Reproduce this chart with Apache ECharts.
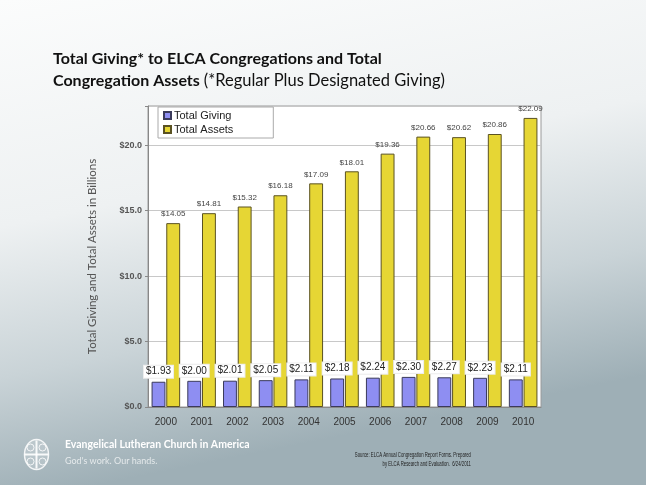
<!DOCTYPE html>
<html><head><meta charset="utf-8">
<script src="https://cdn.jsdelivr.net/npm/echarts@6/dist/echarts.min.js"></script>
<style>html,body{margin:0;padding:0;}#c{width:646px;height:485px;}</style>
</head><body><div id="c"></div>
<script>
const years = ['2000','2001','2002','2003','2004','2005','2006','2007','2008','2009','2010'];
const totalGiving = [1.93,2.00,2.01,2.05,2.11,2.18,2.24,2.30,2.27,2.23,2.11];
const totalAssets = [14.05,14.81,15.32,16.18,17.09,18.01,19.36,20.66,20.62,20.86,22.09];
const yTicks = [0,5,10,15,20];

const chart = echarts.init(document.getElementById('c'));
const fmt = v => '$' + v.toFixed(2);
chart.setOption({
  animation:false,
  backgroundColor:{type:'linear',x:0,y:0,x2:0.15,y2:1,colorStops:[
    {offset:0,color:'#fbfcfc'},{offset:0.45,color:'#eef1f2'},{offset:0.75,color:'#c9d3d7'},{offset:1,color:'#9eafb6'}]},
  title:{
    text:'{b|Total Giving* to ELCA Congregations and Total}\n{b|Congregation Assets }{n|(*Regular Plus Designated Giving)}',
    left:48, top:43,
    textStyle:{fontWeight:'normal',rich:{
      b:{fontFamily:'Lato',fontWeight:'bold',fontSize:16,color:'#111',lineHeight:22},
      n:{fontFamily:'Lato',fontWeight:'normal',fontSize:16.5,color:'#111',lineHeight:22}
    }}
  },
  legend:{
    left:158, top:107, orient:'vertical', itemWidth:7, itemHeight:7, itemGap:3,
    backgroundColor:'#ffffff', borderColor:'#aaaaaa', borderWidth:1, padding:[3,40,3,5],
    textStyle:{fontFamily:'Liberation Sans',fontSize:11,color:'#222',padding:[0,0,0,-2]},
    data:[{name:'Total Giving',icon:'rect'},{name:'Total Assets',icon:'rect'}]
  },
  grid:{left:148, right:105, top:106, bottom:78, show:true, backgroundColor:'#ffffff', borderColor:'#9a9a9a', borderWidth:1},
  xAxis:{
    type:'category', data:years,
    axisLine:{lineStyle:{color:'#888'}}, axisTick:{show:false},
    axisLabel:{fontFamily:'Liberation Sans',fontSize:10,color:'#333',margin:10}
  },
  yAxis:{
    type:'value', min:0, max:23, interval:5,
    name:'Total Giving and Total Assets in Billions', nameLocation:'middle', nameGap:50,
    nameTextStyle:{fontFamily:'Lato',fontSize:11.5,color:'#555'},
    axisLine:{show:true,lineStyle:{color:'#888'}},
    axisTick:{show:true,length:3,lineStyle:{color:'#888'}},
    axisLabel:{fontFamily:'Liberation Sans',fontSize:9,fontWeight:'bold',color:'#555',margin:6,
      formatter:v => yTicks.indexOf(v) >= 0 ? '$' + v.toFixed(1) : ''},
    splitLine:{lineStyle:{color:'#c8c8c8'}}
  },
  series:[
    {name:'Total Giving', type:'bar', data:totalGiving, barGap:'6%', barCategoryGap:'20%',
      itemStyle:{color:'#8e8ef2', borderColor:'#3a3a5a', borderWidth:1},
      label:{show:true, position:'top', distance:4, formatter:p => fmt(p.value),
        fontFamily:'Liberation Sans', fontSize:10, color:'#222', backgroundColor:'#ffffff',
        padding:[1,2,1,2], borderColor:'#ececec', borderWidth:1}},
    {name:'Total Assets', type:'bar', data:totalAssets,
      itemStyle:{color:'#e6d634', borderColor:'#5a5222', borderWidth:1},
      label:{show:true, position:'top', distance:5, formatter:p => fmt(p.value),
        fontFamily:'Liberation Sans', fontSize:8, color:'#444'}}
  ],
  graphic:[
    {type:'group', left:22, top:438, children:[
      {type:'ellipse', shape:{cx:13,cy:15,rx:12,ry:15}, style:{fill:'rgba(255,255,255,0.15)',stroke:'rgba(255,255,255,0.85)',lineWidth:1.5}},
      {type:'line', shape:{x1:13,y1:1,x2:13,y2:29}, style:{stroke:'rgba(255,255,255,0.9)',lineWidth:2}},
      {type:'line', shape:{x1:1,y1:15,x2:25,y2:15}, style:{stroke:'rgba(255,255,255,0.9)',lineWidth:2}},
      {type:'circle', shape:{cx:7,cy:8,r:3.5}, style:{fill:'none',stroke:'rgba(255,255,255,0.85)',lineWidth:1}},
      {type:'circle', shape:{cx:19,cy:8,r:3.5}, style:{fill:'none',stroke:'rgba(255,255,255,0.85)',lineWidth:1}},
      {type:'circle', shape:{cx:7,cy:22,r:3.5}, style:{fill:'none',stroke:'rgba(255,255,255,0.85)',lineWidth:1}},
      {type:'circle', shape:{cx:19,cy:22,r:3.5}, style:{fill:'none',stroke:'rgba(255,255,255,0.85)',lineWidth:1}}
    ]},
    {type:'text', left:65, top:439, style:{text:'Evangelical Lutheran Church in America', fill:'#ffffff',
      font:'bold 10.5px Lato'}},
    {type:'text', left:65, top:457, style:{text:"God's work. Our hands.", fill:'rgba(255,255,255,0.7)',
      font:'9px Lato'}},
    {type:'group', x:471, y:452, scaleX:0.66, children:[
      {type:'text', x:0, y:0, style:{text:'Source: ELCA Annual Congregation Report Forms. Prepared',
        fill:'#222', font:'6.5px "Liberation Sans"', align:'right'}},
      {type:'text', x:0, y:9, style:{text:'by ELCA Research and Evaluation.  6/24/2011',
        fill:'#222', font:'6.5px "Liberation Sans"', align:'right'}}
    ]}
  ]
});
</script>
</body></html>
